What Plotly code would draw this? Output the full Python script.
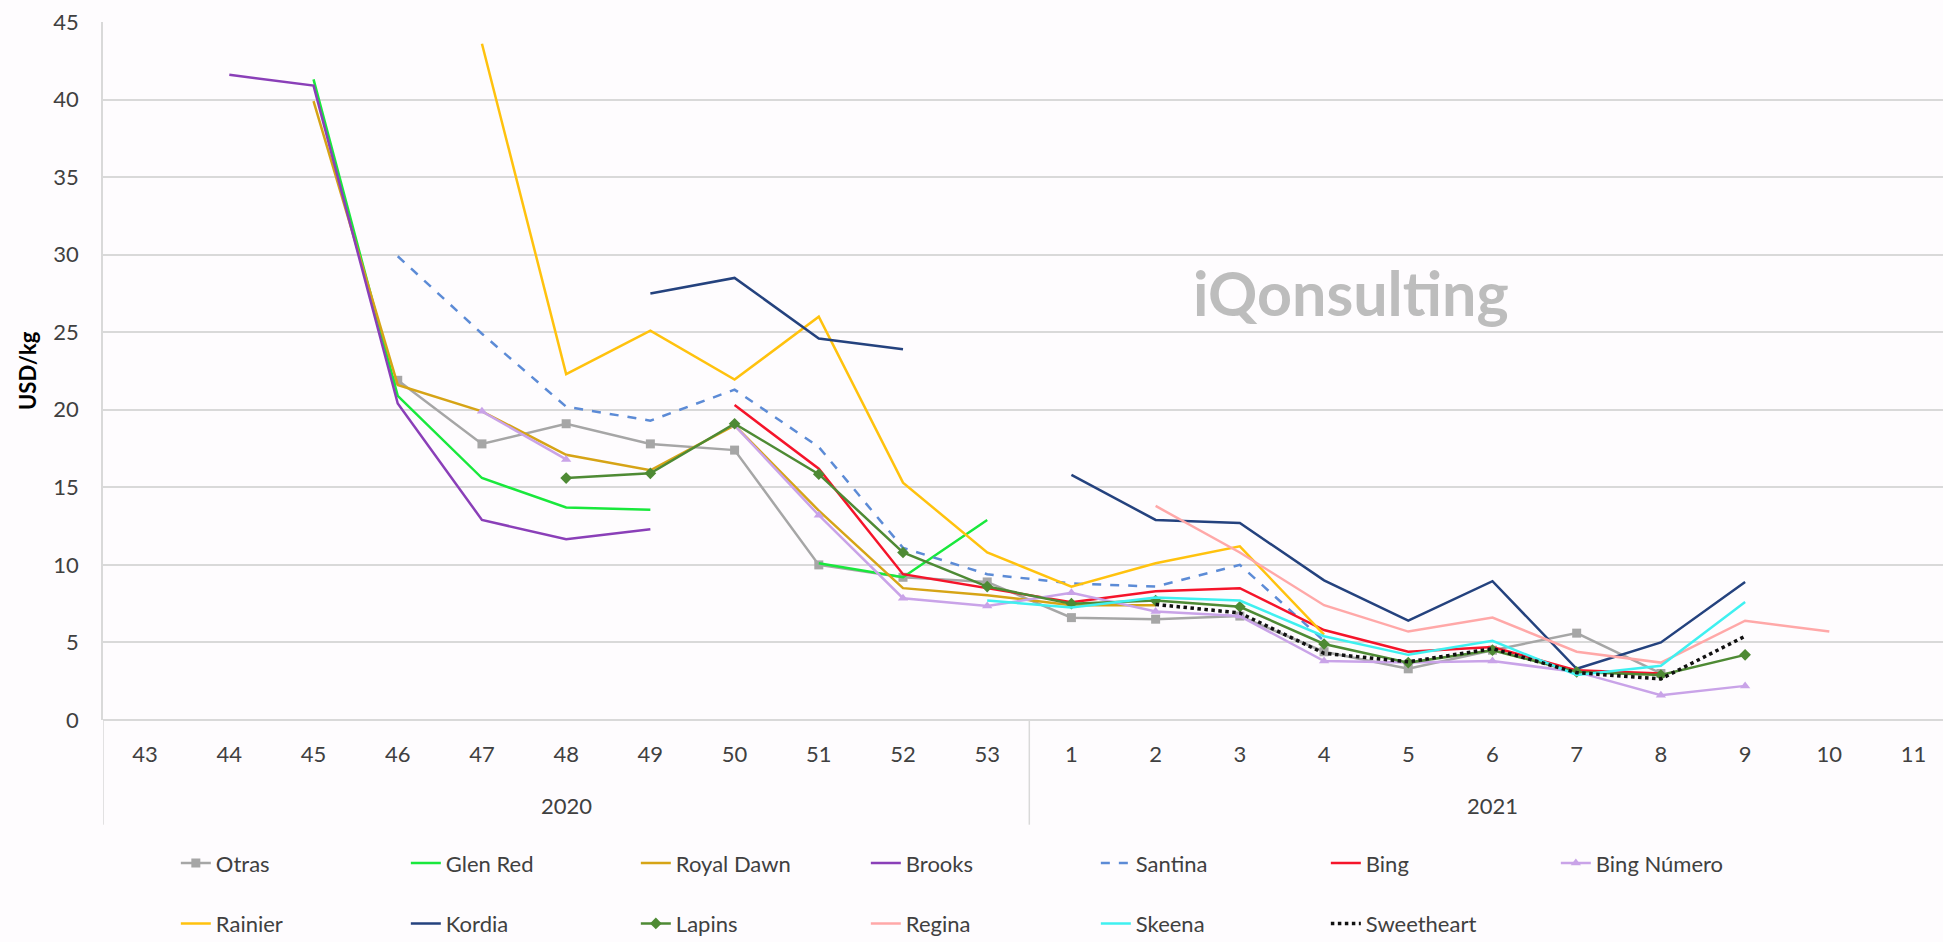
import plotly.graph_objects as go

N = None
years = ["2020", "2021"]
weeks = ["43", "44", "45", "46", "47", "48", "49", "50", "51", "52", "53",
         "1", "2", "3", "4", "5", "6", "7", "8", "9", "10", "11"]
year_sizes = [11, 11]

otras       = [N, N, N, 21.9, 17.8, 19.1, 17.8, 17.4, 10.0, 9.2, 8.9, 6.6, 6.5, 6.7, 4.4, 3.3, 4.5, 5.6, 3.0, N, N, N]
glen_red    = [N, N, 41.3, 20.9, 15.6, 13.7, 13.55, N, 10.1, 9.2, 12.9, N, N, N, N, N, N, N, N, N, N, N]
royal_dawn  = [N, N, 39.9, 21.6, 19.9, 17.1, 16.1, 19.0, 13.5, 8.5, 8.05, 7.4, 7.4, N, N, N, N, N, N, N, N, N]
brooks      = [N, 41.6, 40.9, 20.4, 12.9, 11.65, 12.3, N, N, N, N, N, N, N, N, N, N, N, N, N, N, N]
santina     = [N, N, N, 29.9, 24.9, 20.2, 19.3, 21.3, 17.6, 11.1, 9.4, 8.8, 8.6, 10.0, 5.1, N, N, N, N, N, N, N]
bing        = [N, N, N, N, N, N, N, 20.3, 16.2, 9.4, 8.5, 7.6, 8.3, 8.5, 5.8, 4.4, 4.7, 3.2, 3.0, N, N, N]
bing_numero = [N, N, N, N, 19.9, 16.8, N, 19.0, 13.2, 7.85, 7.35, 8.2, 7.0, 6.7, 3.8, 3.7, 3.8, 3.1, 1.6, 2.2, N, N]
rainier     = [N, N, N, N, 43.6, 22.3, 25.1, 21.95, 26.0, 15.3, 10.8, 8.6, 10.1, 11.2, 5.5, N, N, N, N, N, N, N]
kordia      = [N, N, N, N, N, N, 27.5, 28.5, 24.6, 23.9, N, 15.8, 12.9, 12.7, 9.0, 6.4, 8.95, 3.3, 5.0, 8.9, N, N]
lapins      = [N, N, N, N, N, 15.6, 15.9, 19.1, 15.85, 10.8, 8.6, 7.5, 7.7, 7.3, 4.9, 3.7, 4.5, 3.1, 2.9, 4.2, N, N]
regina      = [N, N, N, N, N, N, N, N, N, N, N, N, 13.8, 10.8, 7.4, 5.7, 6.6, 4.4, 3.7, 6.4, 5.7, N]
skeena      = [N, N, N, N, N, N, N, N, N, N, 7.7, 7.25, 7.9, 7.7, 5.4, 4.2, 5.1, 2.9, 3.5, 7.6, N, N]
sweetheart  = [N, N, N, N, N, N, N, N, N, N, N, N, 7.45, 6.9, 4.3, 3.75, 4.6, 3.05, 2.65, 5.4, N, N]

FONT = "Lato"
TXT = "#404040"
BG = "#FEFCFE"
GRID = "#D9D9D9"

series = [
    ("Otras", otras, dict(color="#A6A6A6", width=2.5), dict(symbol="square", size=9), "legend"),
    ("Glen Red", glen_red, dict(color="#19E83C", width=2.5), None, "legend"),
    ("Royal Dawn", royal_dawn, dict(color="#D6A416", width=2.5), None, "legend"),
    ("Brooks", brooks, dict(color="#8A3FB8", width=2.5), None, "legend"),
    ("Santina", santina, dict(color="#5C8BD6", width=2.5, dash="dash"), None, "legend"),
    ("Bing", bing, dict(color="#F5142A", width=2.5), None, "legend"),
    ("Bing Número", bing_numero, dict(color="#C9A3E8", width=2.5), dict(symbol="triangle-up", size=9), "legend"),
    ("Rainier", rainier, dict(color="#FFC20E", width=2.5), None, "legend2"),
    ("Kordia", kordia, dict(color="#24427E", width=2.5), None, "legend2"),
    ("Lapins", lapins, dict(color="#4E8A34", width=2.5), dict(symbol="diamond", size=9), "legend2"),
    ("Regina", regina, dict(color="#FFA8A8", width=2.5), None, "legend2"),
    ("Skeena", skeena, dict(color="#3FF0F0", width=2.5), None, "legend2"),
    ("Sweetheart", sweetheart, dict(color="#111111", width=3.5, dash="dot"), None, "legend2"),
]

fig = go.Figure()
for name, vals, line, marker, lg in series:
    kw = dict(x=weeks, y=vals, name=name, line=line, legend=lg)
    if marker:
        kw["mode"] = "lines+markers"
        kw["marker"] = dict(color=line["color"], **marker)
    else:
        kw["mode"] = "lines"
    fig.add_trace(go.Scatter(**kw))

# year group labels and dividers on the category axis
annotations = []
shapes = []
start = 0
for yr, n in zip(years, year_sizes):
    annotations.append(dict(text=yr, xref="x", yref="paper", x=start + (n - 1) / 2, y=-0.122,
                            showarrow=False, xanchor="center", yanchor="middle",
                            font=dict(family=FONT, size=22, color=TXT)))
    shapes.append(dict(type="line", xref="x", yref="paper", x0=start - 0.5, x1=start - 0.5,
                       y0=0, y1=-0.150, line=dict(color=GRID, width=1.5)))
    start += n

annotations += [
    dict(text="<b>USD/kg</b>", xref="paper", yref="paper", x=-0.0413, y=0.5,
         textangle=-90, showarrow=False, xanchor="center", yanchor="middle",
         font=dict(family=FONT, size=22, color="#000000")),
    dict(text="<b>iQonsulting</b>", xref="paper", yref="paper", x=0.678, y=0.612,
         showarrow=False, xanchor="center", yanchor="middle",
         font=dict(family=FONT, size=61, color="#BDBDBD")),
]

fig.update_layout(
    width=1943, height=942,
    paper_bgcolor=BG, plot_bgcolor=BG,
    margin=dict(l=103, r=0, t=22, b=222, autoexpand=False),
    font=dict(family=FONT, size=22, color=TXT),
    showlegend=True,
    legend=dict(orientation="h", xref="container", yref="container", x=0.0905, y=0.0836,
                xanchor="left", yanchor="middle", entrywidth=185, bgcolor="rgba(0,0,0,0)",
                font=dict(family=FONT, size=22, color=TXT)),
    legend2=dict(orientation="h", xref="container", yref="container", x=0.0905, y=0.0195,
                 xanchor="left", yanchor="middle", entrywidth=185, bgcolor="rgba(0,0,0,0)",
                 font=dict(family=FONT, size=22, color=TXT)),
    xaxis=dict(type="category", categoryorder="array", categoryarray=weeks,
               range=[-0.5, 21.35], showgrid=False, automargin=False,
               showline=False, zeroline=False, ticks="", ticklabelstandoff=19,
               tickfont=dict(family=FONT, size=22, color=TXT)),
    yaxis=dict(range=[0, 45], dtick=5, showgrid=True, gridcolor=GRID, gridwidth=2,
               automargin=False,
               zeroline=True, zerolinecolor=GRID, zerolinewidth=2,
               showline=True, linecolor=GRID, linewidth=1.5,
               ticklabelstandoff=18,
               tickfont=dict(family=FONT, size=22, color=TXT)),
    annotations=annotations,
    shapes=shapes,
)

fig.write_html("out.html", config={"displayModeBar": False},
               post_script="document.body.style.margin='0';document.body.style.overflow='hidden';")
